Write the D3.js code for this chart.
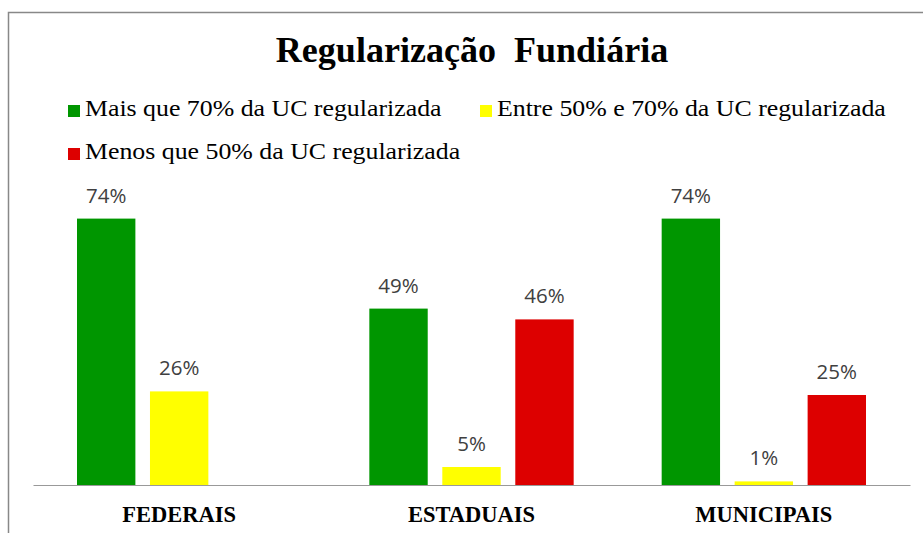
<!DOCTYPE html>
<html>
<head>
<meta charset="utf-8">
<script src="https://cdn.jsdelivr.net/npm/d3@7"></script>
<style>
  body { margin: 0; background: #fff; }
</style>
</head>
<body>
<div id="chart"></div>
<script>
// Dados do gráfico
const categorias = ["FEDERAIS", "ESTADUAIS", "MUNICIPAIS"];
const series = ["Mais que 70% da UC regularizada", "Entre 50% e 70% da UC regularizada", "Menos que 50% da UC regularizada"];
const cores = ["#009600", "#FFFF00", "#DD0000"];
const valores = [
  [74, 49, 74],   // Mais que 70%
  [26, 5, 1],     // Entre 50% e 70%
  [null, 46, 25]  // Menos que 50%
];

const WIDTH = 923;
const HEIGHT = 533;
const SERIF = "'Liberation Serif', 'Times New Roman', serif";

const svg = d3.select("#chart").append("svg")
    .attr("width", WIDTH)
    .attr("height", HEIGHT);

// Moldura
svg.append("path")
    .attr("d", `M8.5,${HEIGHT} V12.5 H${WIDTH}`)
    .attr("fill", "none")
    .attr("stroke", "#888")
    .attr("stroke-width", 1.5);

// Título
svg.append("text")
    .attr("x", 472)
    .attr("y", 62)
    .attr("text-anchor", "middle")
    .style("font-family", SERIF)
    .style("font-weight", "bold")
    .style("font-size", "35px")
    .style("white-space", "pre")
    .attr("transform", "translate(472,0) scale(1.03,1) translate(-472,0)")
    .text("Regularização  Fundiária");

// Legenda
const legendPos = [[68, 111], [480, 111], [68, 154]];
const legend = svg.selectAll(".legend")
    .data(series)
    .enter().append("g")
    .attr("class", "legend")
    .attr("transform", (d, i) => `translate(${legendPos[i][0]}, ${legendPos[i][1]})`);

legend.append("rect")
    .attr("x", 0)
    .attr("y", -6)
    .attr("width", 12)
    .attr("height", 12)
    .attr("fill", (d, i) => cores[i]);

legend.append("text")
    .attr("x", 17)
    .attr("y", 5)
    .style("font-family", SERIF)
    .style("font-size", "23.5px")
    .attr("fill", "#000")
    .attr("transform", "translate(17,0) scale(1.1,1) translate(-17,0)")
    .text(d => d);

// Escalas
const x0 = d3.scaleBand()
    .domain(categorias)
    .range([33, 910]);

const x1 = d3.scaleBand()
    .domain(d3.range(series.length))
    .range([44, x0.bandwidth() - 44])
    .paddingInner(0.2);

const y = d3.scaleLinear()
    .domain([0, 100])
    .range([485, 125]);

// Barras
const grupos = svg.selectAll(".grupo")
    .data(categorias)
    .enter().append("g")
    .attr("class", "grupo")
    .attr("transform", d => `translate(${x0(d)}, 0)`);

const dadosGrupo = (c, ci) => series.map((s, si) => ({ si, v: valores[si][ci] })).filter(d => d.v !== null);

grupos.selectAll("rect")
    .data((c, ci) => dadosGrupo(c, ci))
    .enter().append("rect")
    .attr("x", d => x1(d.si))
    .attr("y", d => y(d.v))
    .attr("width", x1.bandwidth())
    .attr("height", d => y(0) - y(d.v))
    .attr("fill", d => cores[d.si]);

grupos.selectAll(".rotulo")
    .data((c, ci) => dadosGrupo(c, ci))
    .enter().append("text")
    .attr("class", "rotulo")
    .attr("x", d => x1(d.si) + x1.bandwidth() / 2)
    .attr("y", d => y(d.v) - 16)
    .attr("text-anchor", "middle")
    .style("font-family", "'Open Sans', sans-serif")
    .style("font-size", "20.5px")
    .attr("fill", "#404040")
    .text(d => d.v + "%");

// Eixo x
const eixo = svg.append("g")
    .attr("transform", `translate(0, ${y(0)})`)
    .call(d3.axisBottom(x0).tickSize(0).tickPadding(0));

eixo.select(".domain")
    .attr("stroke", "#999")
    .attr("stroke-width", 1.2);

eixo.selectAll("text")
    .attr("dy", null)
    .attr("y", 37)
    .style("font-family", SERIF)
    .style("font-weight", "bold")
    .style("font-size", "22.5px")
    .attr("fill", "#000");
</script>
</body>
</html>
